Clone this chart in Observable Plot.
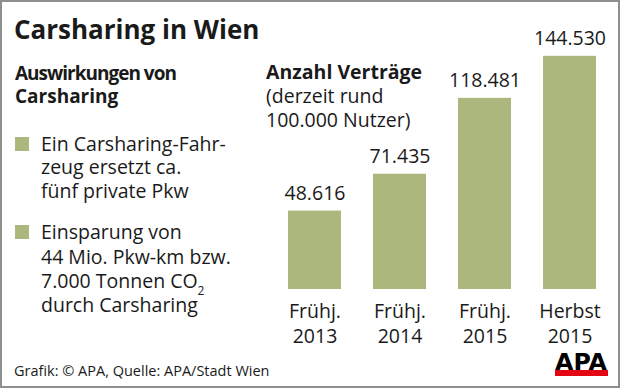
<!DOCTYPE html>
<html><head><meta charset="utf-8">
<script src="https://cdn.jsdelivr.net/npm/d3@7"></script>
<script src="https://cdn.jsdelivr.net/npm/@observablehq/plot@0.6"></script>
<style>
body{margin:0;background:#fff;}
#wrap{position:relative;width:620px;height:388px;overflow:hidden;font-family:"Open Sans",sans-serif;background:#fff;color:#1a1a1a;}
#wrap svg{position:absolute;left:0;top:0;}
#frame{position:absolute;left:0;top:0;width:620px;height:388px;box-sizing:border-box;border:2px solid #8e8e8e;pointer-events:none;}
.blk{position:absolute;white-space:nowrap;margin:0;}
.sq{position:absolute;width:14px;height:14px;}
sub{font-size:12px;line-height:0;vertical-align:-7px;}
</style></head><body><div id="wrap"><div id="frame"></div></div>
<script>
// ---- data ----
const periods = ["Frühj.\n2013", "Frühj.\n2014", "Frühj.\n2015", "Herbst\n2015"];
const contracts = [48616, 71435, 118481, 144530];

// ---- texts ----
const title = "Carsharing in Wien";
const leftHeading = ["Auswirkungen von", "Carsharing"];
const bullet1 = ["Ein Carsharing-Fahr-", "zeug ersetzt ca.", "fünf private Pkw"];
const bullet2 = ["Einsparung von", "44 Mio. Pkw-km bzw.", "7.000 Tonnen CO", "durch Carsharing"];
const chartHeading = ["Anzahl Verträge", "(derzeit rund", "100.000 Nutzer)"];
const source = "Grafik: © APA, Quelle: APA/Stadt Wien";
const logo = "APA";

const barColor = "#abb77d";
const de = d3.formatLocale({decimal: ",", thousands: ".", grouping: [3], currency: ["", " €"]});
const fmt = de.format(",d");

const data = periods.map((p, i) => ({period: p, value: contracts[i]}));
const FONT = "'Open Sans', sans-serif";

const chart = Plot.plot({
  width: 620, height: 388,
  marginLeft: 272, marginRight: 8, marginTop: 47, marginBottom: 99,
  x: {domain: periods, paddingInner: 0.382, paddingOuter: 0.191, axis: null},
  y: {domain: [0, 150000], axis: null},
  style: {fontFamily: FONT, background: "transparent", color: "#1a1a1a"},
  marks: [
    Plot.barY(data, {x: "period", y: "value", fill: barColor}),
    Plot.text(data, {x: "period", y: "value", text: d => fmt(d.value), lineAnchor: "bottom", dy: -11, fontSize: 19.5, fill: "#1a1a1a"}),
    Plot.text(data, {x: "period", frameAnchor: "bottom", text: "period", lineAnchor: "top", dy: 11, fontSize: 19.5, lineHeight: 1.28, fill: "#1a1a1a"})
  ]
});
const wrap = d3.select("#wrap");
wrap.node().insertBefore(chart, document.getElementById("frame"));

// ---- HTML text blocks ----
function block(lines, left, top, size, lh, weight, lineStyles) {
  const d = wrap.insert("div", "#frame").attr("class", "blk")
    .style("left", left + "px").style("top", top + "px")
    .style("font-size", size + "px").style("line-height", lh + "px")
    .style("font-weight", weight || 400);
  lines.forEach((s, i) => {
    const ln = d.append("div").text(s);
    if (lineStyles && lineStyles[i]) Object.entries(lineStyles[i]).forEach(([k, v]) => ln.style(k, v));
  });
  return d;
}
function square(left, top) {
  wrap.insert("div", "#frame").attr("class", "sq").style("left", left + "px").style("top", top + "px").style("background", barColor);
}

block([title], 14, 13.9, 26, 30, 700);
block(leftHeading, 15, 61.9, 19, 23.5, 700, [{"letter-spacing": "-1px"}, null]);
block([chartHeading[0]], 266, 60.4, 19.5, 24, 700);
block(chartHeading.slice(1), 266, 84.4, 19.5, 24, 400);

square(15, 137);
block(bullet1, 41, 131.7, 19.5, 23.5, 400);
square(15, 225);
const b2 = block(bullet2, 41, 220.3, 19.5, 24.2, 400);
b2.selectAll("div").filter((d, i) => i === 2).append("sub").text("2");

block([source], 14, 362.4, 14.5, 18, 400);

// logo
const lg = wrap.insert("svg", "#frame").attr("width", 620).attr("height", 388);
lg.append("text").attr("x", 555).attr("y", 370).attr("font-size", 23).attr("font-weight", 700)
  .attr("font-family", "'DejaVu Sans', sans-serif").attr("fill", "#000")
  .attr("textLength", 52).attr("lengthAdjust", "spacingAndGlyphs").text(logo);
lg.append("rect").attr("x", 555).attr("y", 370).attr("width", 53).attr("height", 6).attr("fill", "#e30613");
</script></body></html>
